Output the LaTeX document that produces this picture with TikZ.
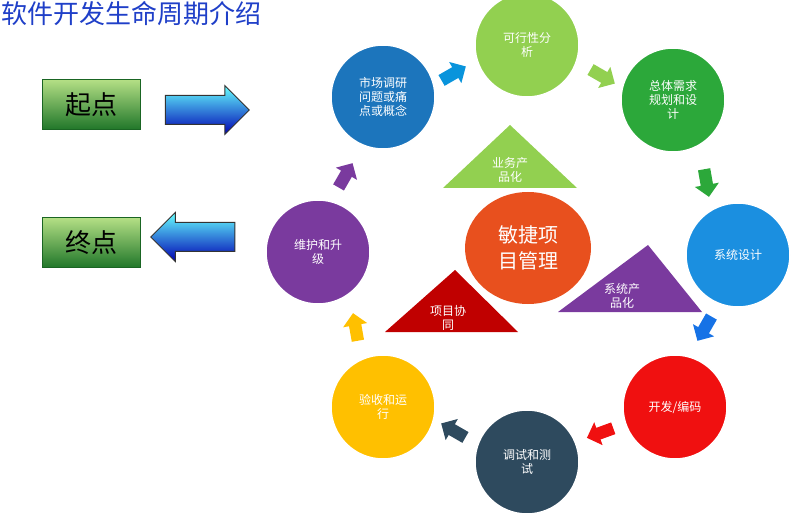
\documentclass[tikz,border=0pt]{standalone}
\usepackage{fontspec}
\setmainfont{Noto Sans CJK SC}
\usetikzlibrary{positioning,shapes.arrows,shapes.geometric}
\definecolor{cLgreen}{HTML}{92D050}
\definecolor{cBlue}{HTML}{1C75BC}
\definecolor{cGreen}{HTML}{2CA83A}
\definecolor{cSky}{HTML}{1B8FE0}
\definecolor{cRed}{HTML}{F01010}
\definecolor{cSlate}{HTML}{2E4A5E}
\definecolor{cYellow}{HTML}{FFC000}
\definecolor{cPurple}{HTML}{7A3A9E}
\definecolor{cOrange}{HTML}{E8501E}
\definecolor{cDred}{HTML}{C00000}
\definecolor{cTitle}{HTML}{1F3FC8}
\begin{document}
\begin{tikzpicture}[x=1pt,y=-1pt]

  % Styles
  \tikzstyle{stage}=[circle,draw=white,line width=1.5pt,minimum size=104pt,align=center,text=white,font=\fontsize{12}{14}\selectfont]
  \tikzstyle{chev}=[single arrow,draw=none,minimum height=28pt,minimum width=24pt,single arrow head extend=6pt,inner xsep=0pt,inner ysep=6pt]
  \tikzstyle{endbox}=[draw=cGreen!60!black,line width=1pt,minimum width=98pt,minimum height=50pt,font=\fontsize{26}{28}\selectfont,
      top color=cLgreen!70!white,bottom color=cGreen!70!black]
  \tikzstyle{bigarrow}=[single arrow,draw=black!80,line width=1pt,minimum height=84pt,minimum width=48pt,single arrow head extend=10pt,
      inner xsep=0pt,inner ysep=14pt,top color=cyan!60!white,bottom color=blue!70!black,shading angle=0]
  \tikzstyle{trilabel}=[text=white,font=\fontsize{12}{14}\selectfont,align=center]

  \useasboundingbox (0,0) rectangle (800,521);

  % Title
  \node[anchor=west,text=cTitle,font=\fontsize{26}{28}\selectfont] (title) at (-2,14) {软件开发生命周期介绍};

  % Start / end
  \node[endbox] (start) at (91,105) {起点};
  \node[endbox] (stop) at (91,243) {终点};
  \node[bigarrow] (toin) at (200,110) {};
  \node[bigarrow,shape border rotate=180] (toout) at (200,237) {};

  % Stages
  \node[stage,fill=cLgreen] (feas) at (527,45) {可行性分\\析};
  \node[stage,fill=cBlue] (market) at (383,97) {市场调研\\问题或痛\\点或概念};
  \node[stage,fill=cGreen] (plan) at (673,100) {总体需求\\规划和设\\计};
  \node[stage,fill=cSky] (sysd) at (738,255) {系统设计};
  \node[stage,fill=cRed] (code) at (675,407) {开发/编码};
  \node[stage,fill=cSlate] (test) at (527,462) {调试和测\\试};
  \node[stage,fill=cYellow] (accept) at (383,407) {验收和运\\行};
  \node[stage,fill=cPurple] (maint) at (318,252) {维护和升\\级};

  % Center
  \node[ellipse,fill=cOrange,minimum width=126pt,minimum height=112pt,text=white,align=center,
        font=\fontsize{20}{26}\selectfont] (agile) at (528,248) {敏捷项\\目管理};

  % Triangles
  \fill[cLgreen] (510,125) -- (577,188) -- (443,188) -- cycle;
  \node[trilabel] (biz) at (510,170) {业务产\\品化};
  \fill[cPurple] (648,245) -- (702,312) -- (558,312) -- cycle;
  \node[trilabel] (sysp) at (622,296) {系统产\\品化};
  \fill[cDred] (455,270) -- (518,332) -- (385,332) -- cycle;
  \node[trilabel] (coop) at (448,318) {项目协\\同};

  % Small arrows
  \node[chev,fill=cyan!80!blue,rotate=30] (a1) at (451,75) {};
  \node[chev,fill=cLgreen,rotate=-30] (a2) at (600,75) {};
  \node[chev,fill=cGreen,rotate=-80] (a3) at (706,180) {};
  \node[chev,fill=cSky!80!blue,rotate=-120] (a4) at (706,326) {};
  \node[chev,fill=cRed,rotate=-160] (a5) at (603,432) {};
  \node[chev,fill=cSlate,rotate=150] (a6) at (456,432) {};
  \node[chev,fill=cYellow,rotate=100] (a7) at (356,330) {};
  \node[chev,fill=cPurple,rotate=60] (a8) at (344,178) {};

\end{tikzpicture}
\end{document}
